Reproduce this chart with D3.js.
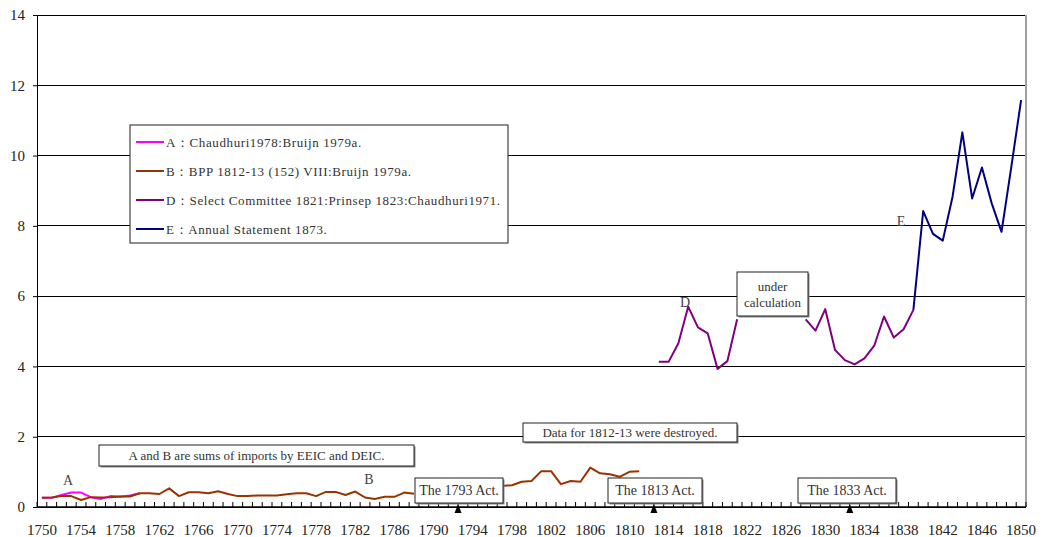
<!DOCTYPE html>
<html>
<head>
    <meta http-equiv="content-type" content="text/html; charset=utf-8" />
    <style>
        body { margin: 0; background: #fff; }
        svg { display: block; font-family: "Liberation Serif", "DejaVu Serif", serif; }
    </style>
</head>
<body>
    <svg width="1042" height="537"></svg>

    <script src="https://d3js.org/d3.v7.min.js"></script>
    <script>
        // data
        const years = d3.range(1750, 1851)
        const xLabels = d3.range(1750, 1851, 4)
        const yTicks = [0, 2, 4, 6, 8, 10, 12, 14]

        const aStart = 1750
        const aValues = [0.26, 0.26, 0.34, 0.41, 0.41, 0.28, 0.23, 0.31, 0.29, 0.33, 0.39]

        const bStart = 1750
        const bValues = [
            0.26, 0.27, 0.31, 0.31, 0.20, 0.28, 0.27, 0.28, 0.30, 0.30, // 1750-59
            0.39, 0.39, 0.37, 0.53, 0.31, 0.42, 0.42, 0.39, 0.45, 0.37, // 1760-69
            0.31, 0.31, 0.33, 0.33, 0.33, 0.36, 0.39, 0.39, 0.31, 0.43, // 1770-79
            0.43, 0.34, 0.44, 0.27, 0.23, 0.29, 0.29, 0.41, 0.38, null, // 1780-89
            null, null, null, null, null, null, null, 0.60, 0.62, 0.72, // 1790-99
            0.74, 1.02, 1.02, 0.65, 0.74, 0.72, 1.12, 0.96, 0.93, 0.86, // 1800-09
            1.00, 1.02                                                  // 1810-11
        ]

        const dStart = 1813
        const dValues = [
            4.13, 4.13, 4.66, 5.70, 5.11, 4.94, 3.93, 4.15, 5.34,       // 1813-21
            null, null, null, null, null, null,                         // 1822-27
            5.34, 5.02, 5.63, 4.47, 4.18, 4.06, 4.23, 4.59, 5.42, 4.82, // 1828-37
            5.06, 5.61                                                  // 1838-39
        ]

        const eStart = 1839
        const eValues = [5.61, 8.42, 7.77, 7.58, 8.83, 10.66, 8.78, 9.66, 8.64, 7.83, 9.68, 11.58]

        const series = [
            { key: 'A', start: aStart, values: aValues, color: '#ff00ff', label: 'A：Chaudhuri1978:Bruijn 1979a.' },
            { key: 'B', start: bStart, values: bValues, color: '#993300', label: 'B：BPP 1812-13 (152) VIII:Bruijn 1979a.' },
            { key: 'D', start: dStart, values: dValues, color: '#800080', label: 'D：Select Committee 1821:Prinsep 1823:Chaudhuri1971.' },
            { key: 'E', start: eStart, values: eValues, color: '#000080', label: 'E：Annual Statement 1873.' }
        ]

        const pLeft = 37, pRight = 1026, pTop = 15, pBottom = 507

        const svg = d3.select('svg')

        const x = d3.scaleBand().domain(years).range([pLeft, pRight])
        const cx = yr => x(yr) + x.bandwidth() / 2
        const y = d3.scaleLinear().domain([0, 14]).range([pBottom, pTop])

        // grid lines
        svg.append('g')
            .selectAll('line')
            .data(yTicks)
            .join('line')
            .attr('x1', pLeft).attr('x2', pRight)
            .attr('y1', d => y(d)).attr('y2', d => y(d))
            .attr('stroke', '#000').attr('stroke-width', 1)
            .attr('shape-rendering', 'crispEdges')

        // right border
        svg.append('line')
            .attr('x1', pRight).attr('x2', pRight).attr('y1', pTop).attr('y2', pBottom)
            .attr('stroke', '#a0a0a0').attr('stroke-width', 2)

        // y axis
        const yAxis = svg.append('g')
            .attr('transform', `translate(${pLeft},0)`)
            .call(d3.axisLeft(y).tickValues(yTicks).tickSize(4).tickPadding(8))
        yAxis.select('.domain').attr('stroke', '#000')
        yAxis.selectAll('text').attr('font-size', 15).attr('font-family', 'Liberation Serif').attr('fill', '#222')

        // series lines
        const line = d3.line()
            .defined(d => d.v != null)
            .x(d => cx(d.year))
            .y(d => y(d.v))

        svg.append('g')
            .selectAll('path')
            .data(series)
            .join('path')
            .attr('fill', 'none')
            .attr('stroke', d => d.color)
            .attr('stroke-width', 2)
            .attr('stroke-linejoin', 'round')
            .attr('d', s => line(s.values.map((v, i) => ({ year: s.start + i, v }))))

        // x axis
        const xAxis = svg.append('g').attr('transform', `translate(0,${pBottom})`)
        xAxis.append('line')
            .attr('x1', pLeft).attr('x2', pRight)
            .attr('stroke', '#000').attr('stroke-width', 1.5)
        xAxis.selectAll('line.tick')
            .data(years.concat([null]))
            .join('line')
            .attr('class', 'tick')
            .attr('x1', d => d == null ? pRight : x(d))
            .attr('x2', d => d == null ? pRight : x(d))
            .attr('y1', 0).attr('y2', -5)
            .attr('stroke', '#000')
        xAxis.selectAll('text')
            .data(xLabels)
            .join('text')
            .attr('x', d => cx(d))
            .attr('y', 28)
            .attr('text-anchor', 'middle')
            .attr('font-size', 15)
            .attr('fill', '#222')
            .text(d => d)

        // text boxes
        function box(x0, y0, w, h, lines, size) {
            const g = svg.append('g')
            g.append('rect').attr('x', x0 + 1.5).attr('y', y0 + 1.5).attr('width', w).attr('height', h).attr('fill', '#888')
            g.append('rect').attr('x', x0).attr('y', y0).attr('width', w).attr('height', h)
                .attr('fill', '#fff').attr('stroke', '#222').attr('stroke-width', 1)
            lines.forEach((t, i) => {
                g.append('text')
                    .attr('x', x0 + w / 2)
                    .attr('y', y0 + h / 2 + (i - (lines.length - 1) / 2) * 16)
                    .attr('dy', '0.35em')
                    .attr('text-anchor', 'middle')
                    .attr('font-size', size)
                    .attr('fill', '#333')
                    .text(t)
            })
        }

        box(99, 445, 315, 21, ['A and B are sums of imports by EEIC and DEIC.'], 13)
        box(523, 423, 214, 19, ['Data for 1812-13 were destroyed.'], 13)
        box(737, 272, 71, 44, ['under', 'calculation'], 13)
        box(415, 478, 88, 25, ['The 1793 Act.'], 14)
        box(608, 478, 94, 25, ['The 1813 Act.'], 14)
        box(798, 478, 98, 25, ['The 1833 Act.'], 14)

        // arrows marking the acts
        svg.append('g')
            .selectAll('path')
            .data([1793, 1813, 1833])
            .join('path')
            .attr('d', d => {
                const px = x(d)
                return `M${px},${pBottom - 3} L${px - 3.5},${pBottom + 6} L${px + 3.5},${pBottom + 6} Z`
            })
            .attr('fill', '#000')

        // series letters
        const letters = [
            { t: 'A', x: 68, y: 480 },
            { t: 'B', x: 369, y: 479 },
            { t: 'D', x: 685, y: 302 },
            { t: 'E', x: 901, y: 221 }
        ]
        svg.append('g')
            .selectAll('text')
            .data(letters)
            .join('text')
            .attr('x', d => d.x).attr('y', d => d.y)
            .attr('dy', '0.35em')
            .attr('text-anchor', 'middle')
            .attr('font-size', 14)
            .attr('fill', '#444')
            .text(d => d.t)

        // legend
        const legend = svg.append('g').attr('transform', 'translate(130,125)')
        legend.append('rect')
            .attr('width', 378).attr('height', 118)
            .attr('fill', '#fff').attr('stroke', '#444').attr('stroke-width', 1.2)
        const item = legend.selectAll('g')
            .data(series)
            .join('g')
            .attr('transform', (d, i) => `translate(0,${17 + i * 29})`)
        item.append('line')
            .attr('x1', 6).attr('x2', 34)
            .attr('stroke', d => d.color).attr('stroke-width', 2)
        item.append('text')
            .attr('x', 36)
            .attr('dy', '0.35em')
            .attr('font-size', 13)
            .attr('letter-spacing', 0.6)
            .attr('fill', '#333')
            .text(d => d.label)
    </script>
</body>
</html>
